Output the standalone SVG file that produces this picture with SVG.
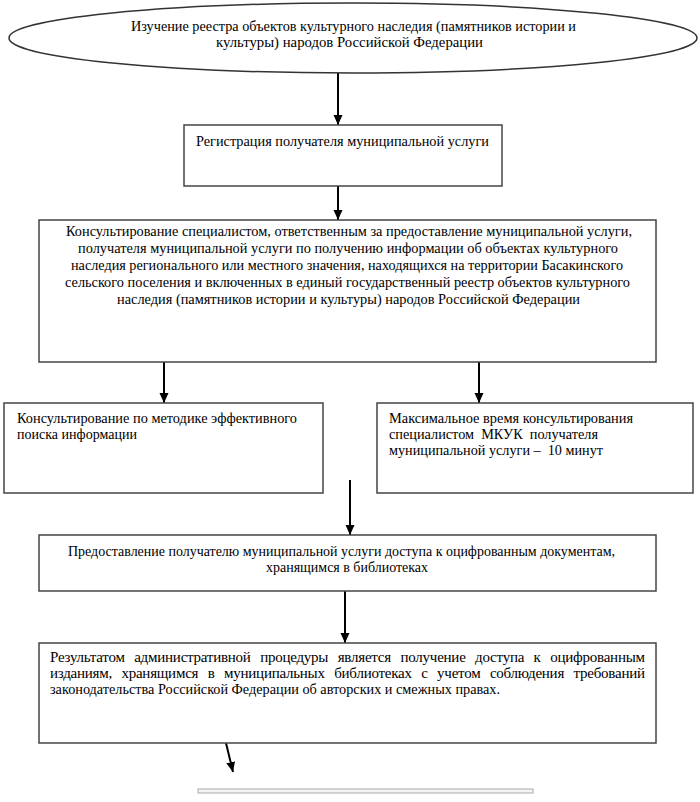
<svg xmlns="http://www.w3.org/2000/svg" width="700" height="802" viewBox="0 0 700 802">
<style>
.box{fill:#fff;stroke:#444;stroke-width:1.5}
.t{font-family:"Liberation Serif","Times New Roman",serif;font-size:15px;fill:#000}
.arr{stroke:#000;stroke-width:2;fill:none;marker-end:url(#ah)}
</style>
<defs>
<marker id="ah" markerUnits="userSpaceOnUse" markerWidth="10" markerHeight="10" refX="10" refY="4.5" orient="auto" viewBox="0 0 10 9">
<path d="M0,0 L10,4.5 L0,9 z" fill="#000"/>
</marker>
</defs>
<rect width="700" height="802" fill="#fff"/>
<g id="connectors">
<line class="arr" x1="338" y1="73" x2="338" y2="125"/>
<line class="arr" x1="338" y1="186" x2="338" y2="220"/>
<line class="arr" x1="164" y1="362" x2="164" y2="403"/>
<line class="arr" x1="479" y1="362" x2="479" y2="403"/>
<line class="arr" x1="350" y1="480" x2="350" y2="535"/>
<line class="arr" x1="345" y1="591" x2="345" y2="643"/>
<line class="arr" x1="226" y1="743" x2="233" y2="772"/>
</g>
<g id="n1">
<ellipse cx="353" cy="38" rx="344" ry="35" fill="#fff" stroke="#333" stroke-width="1.5"/>
<text class="t" x="131" y="31" textLength="445" lengthAdjust="spacingAndGlyphs">Изучение реестра объектов культурного наследия (памятников истории и</text>
<text class="t" x="216" y="47" textLength="267" lengthAdjust="spacingAndGlyphs">культуры) народов Российской Федерации</text>
</g>
<g id="n2">
<rect class="box" x="184" y="125" width="318" height="61"/>
<text class="t" x="196" y="146" textLength="293" lengthAdjust="spacingAndGlyphs">Регистрация получателя муниципальной услуги</text>
</g>
<g id="n3">
<rect class="box" x="39" y="220" width="617" height="142"/>
<text class="t" x="66" y="236" textLength="566" lengthAdjust="spacingAndGlyphs">Консультирование специалистом, ответственным за предоставление муниципальной услуги,</text>
<text class="t" x="78" y="253" textLength="540" lengthAdjust="spacingAndGlyphs">получателя муниципальной услуги по получению информации об объектах культурного</text>
<text class="t" x="71" y="270" textLength="552" lengthAdjust="spacingAndGlyphs">наследия регионального или местного значения, находящихся на территории Басакинского</text>
<text class="t" x="65" y="287" textLength="565" lengthAdjust="spacingAndGlyphs">сельского поселения и включенных в единый государственный реестр объектов культурного</text>
<text class="t" x="117" y="304" textLength="463" lengthAdjust="spacingAndGlyphs">наследия (памятников истории и культуры) народов Российской Федерации</text>
</g>
<g id="n4">
<rect class="box" x="4" y="403" width="319" height="90"/>
<text class="t" x="17" y="423" textLength="280" lengthAdjust="spacingAndGlyphs">Консультирование по методике эффективного</text>
<text class="t" x="17" y="439" textLength="120" lengthAdjust="spacingAndGlyphs">поиска информации</text>
</g>
<g id="n5">
<rect class="box" x="377" y="403" width="316" height="90"/>
<text class="t" x="389" y="423" textLength="244" lengthAdjust="spacingAndGlyphs">Максимальное время консультирования</text>
<text class="t" x="389" y="439" textLength="209" lengthAdjust="spacingAndGlyphs" xml:space="preserve">специалистом  МКУК  получателя</text>
<text class="t" x="389" y="455" textLength="214" lengthAdjust="spacingAndGlyphs" xml:space="preserve">муниципальной услуги –  10 минут</text>
</g>
<g id="n6">
<rect class="box" x="39" y="535" width="617" height="56"/>
<text class="t" x="68" y="556" textLength="547" lengthAdjust="spacingAndGlyphs">Предоставление получателю муниципальной услуги доступа к оцифрованным документам,</text>
<text class="t" x="266" y="572" textLength="162" lengthAdjust="spacingAndGlyphs">хранящимся в библиотеках</text>
</g>
<g id="n7">
<rect class="box" x="39" y="643" width="617" height="100"/>
<text class="t" x="50" y="662" word-spacing="6" textLength="595" lengthAdjust="spacing">Результатом административной процедуры является получение доступа к оцифрованным</text>
<text class="t" x="50" y="678" word-spacing="6" textLength="595" lengthAdjust="spacing">изданиям, хранящимся в муниципальных библиотеках с учетом соблюдения требований</text>
<text class="t" x="50" y="694" textLength="450" lengthAdjust="spacingAndGlyphs">законодательства Российской Федерации об авторских и смежных правах.</text>
</g>
<g id="n8">
<rect x="198" y="789" width="335" height="4" fill="#f4f4f4" stroke="#aaa" stroke-width="1"/>
</g>
</svg>
